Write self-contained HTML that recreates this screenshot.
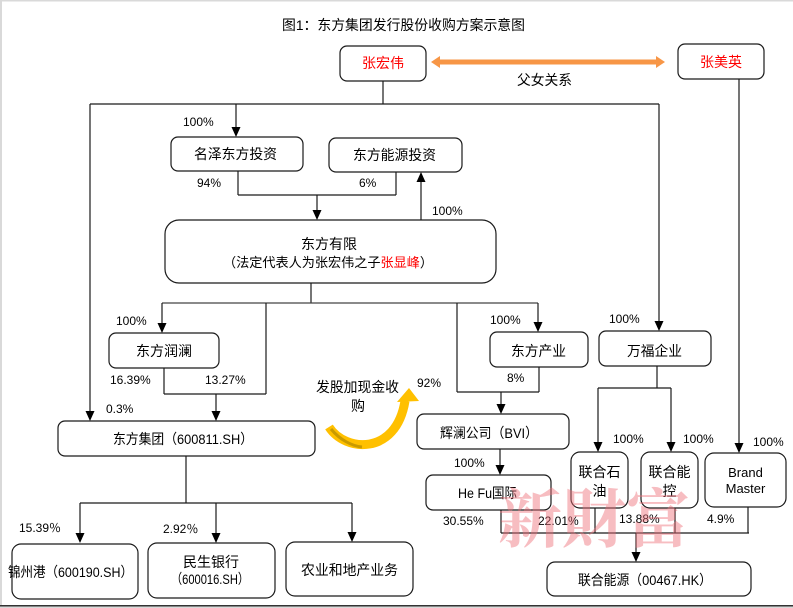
<!DOCTYPE html>
<html><head><meta charset="utf-8"><style>
html,body{margin:0;padding:0;background:#fff;}
svg{display:block;}
text{font-family:"Liberation Sans","Noto Sans CJK SC",sans-serif;fill:#000;}
.b{fill:#fff;stroke:#1a1a1a;stroke-width:1.2;}
.l{stroke:#1a1a1a;stroke-width:1.2;fill:none;}
.p{font-size:12px;}
.t{font-size:14px;}
</style></head><body>
<svg width="793" height="608" viewBox="0 0 793 608" xmlns="http://www.w3.org/2000/svg">
<rect x="0" y="0" width="793" height="608" fill="#fff"/>
<rect x="0" y="0" width="2" height="608" fill="#d9d9d9"/>
<rect x="0" y="0" width="793" height="1.5" fill="#d9d9d9"/>
<rect x="0" y="605" width="793" height="1.5" fill="#333"/>
<rect x="0" y="606.5" width="793" height="1.5" fill="#d9d9d9"/>

<text x="282" y="30" class="t" textLength="243" lengthAdjust="spacingAndGlyphs">图1：东方集团发行股份收购方案示意图</text>

<!-- top persons -->
<rect class="b" x="340" y="46" width="86" height="35" rx="7"/>
<text x="383" y="68" class="t" text-anchor="middle" style="fill:#ff0000">张宏伟</text>
<rect class="b" x="678" y="44" width="86" height="35" rx="7"/>
<text x="721" y="67" class="t" text-anchor="middle" style="fill:#ff0000">张美英</text>
<line x1="437" y1="62" x2="659" y2="62" stroke="#F79646" stroke-width="5"/>
<polygon points="431,62 440,56 440,68" fill="#F79646"/>
<polygon points="665,62 656,56 656,68" fill="#F79646"/>
<text x="517" y="85" class="t" textLength="55" lengthAdjust="spacingAndGlyphs">父女关系</text>

<!-- lines from 张宏伟 -->
<line class="l" x1="383" y1="81" x2="383" y2="104"/>
<line class="l" x1="90" y1="104" x2="659" y2="104"/>
<line class="l" x1="90" y1="104" x2="90" y2="412"/>
<polygon points="85.5,411 94.5,411 90,421"/>
<line class="l" x1="659" y1="104" x2="659" y2="322"/>
<polygon points="654.5,321 663.5,321 659,331"/>
<line class="l" x1="236" y1="104" x2="236" y2="128"/>
<polygon points="231.5,127 240.5,127 236,137"/>
<text x="183" y="126" class="p">100%</text>

<rect class="b" x="171" y="137" width="132" height="34" rx="7"/>
<text x="194" y="159" class="t" textLength="83" lengthAdjust="spacingAndGlyphs">名泽东方投资</text>
<rect class="b" x="329" y="138" width="133" height="34" rx="7"/>
<text x="353" y="160" class="t" textLength="83" lengthAdjust="spacingAndGlyphs">东方能源投资</text>
<text x="197" y="187" class="p">94%</text>
<text x="359" y="187" class="p">6%</text>

<line class="l" x1="238" y1="171" x2="238" y2="195"/>
<line class="l" x1="238" y1="195" x2="396" y2="195"/>
<line class="l" x1="396" y1="172" x2="396" y2="195"/>
<line class="l" x1="317" y1="195" x2="317" y2="211"/>
<polygon points="312.5,210 321.5,210 317,220"/>
<line class="l" x1="421" y1="220" x2="421" y2="181"/>
<polygon points="416.5,182 425.5,182 421,172"/>
<text x="432" y="215" class="p">100%</text>

<rect class="b" x="165" y="220" width="331" height="63" rx="14"/>
<text x="301" y="249" class="t" textLength="56" lengthAdjust="spacingAndGlyphs">东方有限</text>
<text x="223" y="267" style="font-size:13.2px" textLength="210" lengthAdjust="spacingAndGlyphs">（法定代表人为张宏伟之子<tspan style="fill:#ff0000">张显峰</tspan>）</text>

<!-- below 东方有限 -->
<line class="l" x1="311" y1="283" x2="311" y2="303"/>
<line class="l" x1="162" y1="303" x2="538" y2="303" style="stroke:#444"/>
<line class="l" x1="162" y1="303" x2="162" y2="324"/>
<polygon points="157.5,323 166.5,323 162,333"/>
<line class="l" x1="266" y1="303" x2="266" y2="394"/>
<line class="l" x1="164" y1="368" x2="164" y2="394"/>
<line class="l" x1="164" y1="394" x2="266" y2="394"/>
<line class="l" x1="216" y1="394" x2="216" y2="412"/>
<polygon points="211.5,411 220.5,411 216,421"/>
<text x="116" y="325" class="p">100%</text>
<rect class="b" x="109" y="333" width="110" height="35" rx="7"/>
<text x="136" y="356" class="t" textLength="56" lengthAdjust="spacingAndGlyphs">东方润澜</text>
<text x="110" y="384" class="p">16.39%</text>
<text x="205" y="384" class="p">13.27%</text>
<text x="106" y="413" class="p">0.3%</text>

<line class="l" x1="538" y1="303" x2="538" y2="323"/>
<polygon points="533.5,322 542.5,322 538,332"/>
<line class="l" x1="457" y1="303" x2="457" y2="392"/>
<line class="l" x1="539" y1="367" x2="539" y2="392"/>
<line class="l" x1="457" y1="392" x2="539" y2="392"/>
<line class="l" x1="501" y1="392" x2="501" y2="405"/>
<polygon points="496.5,404 505.5,404 501,414"/>
<text x="490" y="324" class="p">100%</text>
<rect class="b" x="490" y="332" width="98" height="35" rx="7"/>
<text x="511" y="356" class="t" textLength="55" lengthAdjust="spacingAndGlyphs">东方产业</text>
<text x="507" y="382" class="p">8%</text>
<text x="417" y="387" class="p">92%</text>

<text x="609" y="323" class="p">100%</text>
<rect class="b" x="599" y="331" width="112" height="35" rx="7"/>
<text x="627" y="356" class="t" textLength="55" lengthAdjust="spacingAndGlyphs">万福企业</text>
<line class="l" x1="657" y1="366" x2="657" y2="388"/>
<line class="l" x1="598" y1="388" x2="671" y2="388"/>
<line class="l" x1="598" y1="388" x2="598" y2="443"/>
<polygon points="593.5,442 602.5,442 598,452"/>
<line class="l" x1="671" y1="388" x2="671" y2="443"/>
<polygon points="666.5,442 675.5,442 671,452"/>
<line class="l" x1="739" y1="79" x2="739" y2="444"/>
<polygon points="734.5,443 743.5,443 739,453"/>

<!-- curved yellow arrow -->
<path d="M 329 427 C 345 452, 396 456, 405 401" fill="none" stroke="#FFC000" stroke-width="9"/>
<path d="M 331 429 C 340 440, 352 446, 362 447" fill="none" stroke="#C99A00" stroke-width="3"/>
<polygon points="409,388 397,402 419,401" fill="#FFC000"/>
<text x="316" y="392" class="t" textLength="83" lengthAdjust="spacingAndGlyphs">发股加现金收</text>
<text x="358" y="411" class="t" text-anchor="middle">购</text>

<!-- 东方集团 -->
<rect class="b" x="58" y="421" width="257" height="35" rx="7"/>
<text x="113" y="444" class="t" textLength="140" lengthAdjust="spacingAndGlyphs">东方集团（600811.SH）</text>
<line class="l" x1="186" y1="456" x2="186" y2="503"/>
<line class="l" x1="80" y1="503" x2="352" y2="503"/>
<line class="l" x1="80" y1="503" x2="80" y2="534"/>
<polygon points="75.5,533 84.5,533 80,543"/>
<line class="l" x1="216" y1="503" x2="216" y2="534"/>
<polygon points="211.5,533 220.5,533 216,543"/>
<line class="l" x1="352" y1="503" x2="352" y2="533"/>
<polygon points="347.5,532 356.5,532 352,542"/>
<text x="19" y="532" class="p">15.39％</text>
<text x="163" y="533" class="p">2.92％</text>
<rect class="b" x="12" y="544" width="126" height="55" rx="9"/>
<text x="8" y="577" class="t" textLength="125" lengthAdjust="spacingAndGlyphs">锦州港（600190.SH）</text>
<rect class="b" x="148" y="543" width="127" height="55" rx="9"/>
<text x="211" y="567" class="t" text-anchor="middle">民生银行</text>
<text x="171" y="584" class="t" textLength="78" lengthAdjust="spacingAndGlyphs">（600016.SH）</text>
<rect class="b" x="286" y="542" width="127" height="54" rx="9"/>
<text x="301" y="575" class="t" textLength="97" lengthAdjust="spacingAndGlyphs">农业和地产业务</text>

<!-- right lower part -->
<rect class="b" x="417" y="414" width="152" height="35" rx="7"/>
<text x="440" y="438" class="t" textLength="98" lengthAdjust="spacingAndGlyphs">辉澜公司（BVI）</text>
<line class="l" x1="500" y1="449" x2="500" y2="466"/>
<polygon points="495.5,465 504.5,465 500,475"/>
<text x="454" y="467" class="p">100%</text>
<rect class="b" x="426" y="475" width="125" height="35" rx="7"/>
<text x="458" y="498" class="t" textLength="59" lengthAdjust="spacingAndGlyphs">He Fu国际</text>

<text x="613" y="443" class="p">100%</text>
<text x="683" y="443" class="p">100%</text>
<text x="753" y="446" class="p">100%</text>
<rect class="b" x="571" y="452" width="57" height="56" rx="9"/>
<text x="599.5" y="477" class="t" text-anchor="middle">联合石</text>
<text x="599.5" y="496" class="t" text-anchor="middle">油</text>
<rect class="b" x="641" y="452" width="57" height="56" rx="9"/>
<text x="669.5" y="477" class="t" text-anchor="middle">联合能</text>
<text x="669.5" y="496" class="t" text-anchor="middle">控</text>
<rect class="b" x="705" y="453" width="81" height="54" rx="9"/>
<text x="745.5" y="477" text-anchor="middle" style="font-size:13px">Brand</text>
<text x="745.5" y="493" text-anchor="middle" style="font-size:13px">Master</text>

<line class="l" x1="501" y1="510" x2="501" y2="533"/>
<line class="l" x1="501" y1="533" x2="749" y2="533"/>
<line class="l" x1="595" y1="508" x2="595" y2="533"/>
<line class="l" x1="675" y1="508" x2="675" y2="533"/>
<line class="l" x1="748" y1="507" x2="748" y2="533"/>
<line class="l" x1="636" y1="533" x2="636" y2="553"/>
<polygon points="631.5,552 640.5,552 636,562"/>
<text x="443" y="525" class="p">30.55%</text>
<text x="538" y="525" class="p">22.01%</text>
<text x="619" y="523" class="p">13.88%</text>
<text x="707" y="523" class="p">4.9%</text>
<rect class="b" x="547" y="562" width="204" height="34" rx="8"/>
<text x="578" y="585" class="t" textLength="134" lengthAdjust="spacingAndGlyphs">联合能源（00467.HK）</text>

<!-- watermark -->
<text x="498" y="542" style="font-family:'Noto Serif CJK SC','Noto Serif CJK JP',serif;font-size:64px;font-weight:bold;fill:#EE6E78;opacity:0.45" textLength="192" lengthAdjust="spacingAndGlyphs">新財富</text>
</svg>
</body></html>
